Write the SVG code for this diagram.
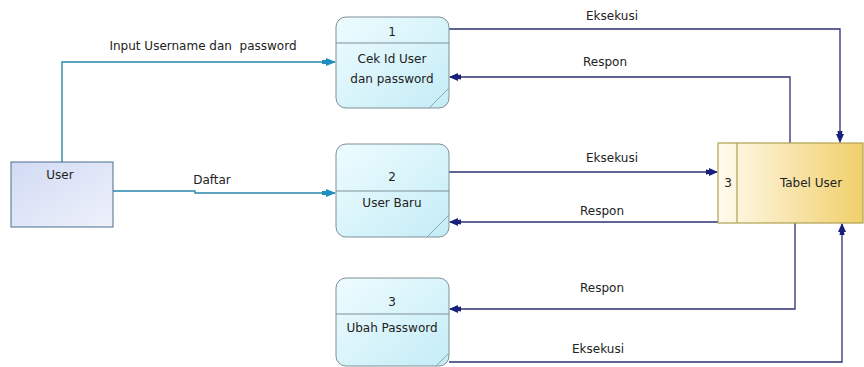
<svg xmlns="http://www.w3.org/2000/svg" width="864" height="367" viewBox="0 0 864 367">
<defs>
<linearGradient id="gProc" x1="0" y1="0" x2="1" y2="1">
<stop offset="0" stop-color="#eefcff"/>
<stop offset="1" stop-color="#c4ecf6"/>
</linearGradient>
<linearGradient id="gEnt" x1="0" y1="0" x2="1" y2="1">
<stop offset="0" stop-color="#d2dbf4"/>
<stop offset="1" stop-color="#eef1fb"/>
</linearGradient>
<linearGradient id="gStore" x1="0" y1="0" x2="1" y2="0">
<stop offset="0" stop-color="#fffbef"/>
<stop offset="1" stop-color="#f1cf6a"/>
</linearGradient>
<marker id="aDark" viewBox="0 0 12 8" refX="11" refY="4" markerWidth="12" markerHeight="8" markerUnits="userSpaceOnUse" orient="auto">
<path d="M0,1.5 L3,2 L3,0 L12,4 L3,8 L3,6 L0,6.5 z" fill="#17207a"/>
</marker>
<marker id="aTeal" viewBox="0 0 14 9" refX="13" refY="4.5" markerWidth="14" markerHeight="9" markerUnits="userSpaceOnUse" orient="auto">
<path d="M0,2.5 L4,2.5 L4,0.5 L14,4.5 L4,8.5 L4,6.5 L0,6.5 z" fill="#1f8fc0"/>
</marker>
<style>
text{font-family:"DejaVu Sans","Liberation Sans",sans-serif;font-size:12px;fill:#222;white-space:pre;}
.proc{fill:url(#gProc);stroke:#7f8f96;stroke-width:1;}
.div{stroke:#7f8f96;stroke-width:1;fill:none;}
.diag{stroke:#8fa8b0;stroke-width:1;fill:none;}
.dark{stroke:#2b3270;stroke-width:1.3;fill:none;marker-end:url(#aDark);}
.teal{stroke:#2a86ac;stroke-width:1.4;fill:none;marker-end:url(#aTeal);}
</style>
</defs>

<g id="connectors">
<path class="teal" d="M62,162 V62 H335"/>
<path class="teal" d="M113,191 H195 V193 H335"/>
<path class="dark" d="M449,29 H840 V142"/>
<path class="dark" d="M790,143 V77 H450"/>
<path class="dark" d="M449,172 H717"/>
<path class="dark" d="M718,222 H450"/>
<path class="dark" d="M795,223 V309 H450"/>
<path class="dark" d="M449,362 H842 V224"/>
<text x="203" y="50" text-anchor="middle" xml:space="preserve">Input Username dan  password</text>
<text x="212" y="184" text-anchor="middle">Daftar</text>
<text x="612" y="20" text-anchor="middle">Eksekusi</text>
<text x="605" y="66" text-anchor="middle">Respon</text>
<text x="612" y="162" text-anchor="middle">Eksekusi</text>
<text x="602" y="215" text-anchor="middle">Respon</text>
<text x="602" y="292" text-anchor="middle">Respon</text>
<text x="598" y="353" text-anchor="middle">Eksekusi</text>
</g>

<g id="user">
<rect x="11" y="162" width="102" height="65" fill="url(#gEnt)" stroke="#4a6f8c" stroke-width="1"/>
<text x="60" y="179" text-anchor="middle">User</text>
</g>

<g id="p1">
<rect class="proc" x="336" y="17" width="113" height="91" rx="10" ry="10"/>
<line class="div" x1="336" y1="43" x2="449" y2="43"/>
<line class="diag" x1="449" y1="88" x2="429" y2="108"/>
<text x="392" y="36" text-anchor="middle">1</text>
<text x="392" y="63" text-anchor="middle">Cek Id User</text>
<text x="392" y="83" text-anchor="middle">dan password</text>
</g>

<g id="p2">
<rect class="proc" x="336" y="144" width="113" height="93" rx="10" ry="10"/>
<line class="div" x1="336" y1="191" x2="449" y2="191"/>
<line class="diag" x1="449" y1="215" x2="427" y2="237"/>
<text x="392" y="181" text-anchor="middle">2</text>
<text x="392" y="207" text-anchor="middle">User Baru</text>
</g>

<g id="p3">
<rect class="proc" x="336" y="278" width="113" height="88" rx="10" ry="10"/>
<line class="div" x1="336" y1="314" x2="449" y2="314"/>
<line class="diag" x1="449" y1="353" x2="436" y2="366"/>
<text x="392" y="306" text-anchor="middle">3</text>
<text x="392" y="332" text-anchor="middle">Ubah Password</text>
</g>

<g id="tabel">
<rect x="718" y="143" width="145" height="80" fill="url(#gStore)" stroke="#b0a050" stroke-width="1.2"/>
<line x1="737" y1="143" x2="737" y2="223" stroke="#b0a050" stroke-width="1.2"/>
<text x="728" y="187" text-anchor="middle">3</text>
<text x="811" y="187" text-anchor="middle">Tabel User</text>
</g>
</svg>
